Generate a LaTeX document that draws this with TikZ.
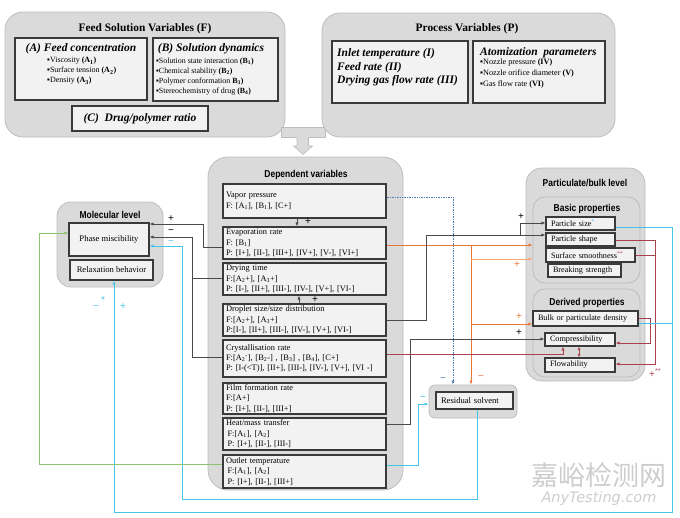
\documentclass[tikz,border=0pt]{standalone}
\usepackage{fontspec}
\setmainfont{Liberation Serif}
\newfontfamily\hsans[FakeStretch=0.85]{Liberation Sans}
\newfontfamily\lsans{Liberation Sans}
\newfontfamily\cjk{Noto Sans CJK SC}
\newfontfamily\wmlat{DejaVu Sans}
\usetikzlibrary{arrows.meta,calc}
\definecolor{graybg}{HTML}{DADADA}
\definecolor{grayedge}{HTML}{BDBDBD}
\definecolor{boxfill}{HTML}{F2F2F2}
\definecolor{boxedge}{HTML}{3A3A3A}
\definecolor{lnblack}{HTML}{4A4A4A}
\definecolor{lnorange}{HTML}{E8763A}
\definecolor{lnlorange}{HTML}{F3A678}
\definecolor{lnred}{HTML}{A8424E}
\definecolor{lncyan}{HTML}{45C4E8}
\definecolor{lngreen}{HTML}{8DC26F}
\definecolor{lnblue}{HTML}{4D7FB0}
\definecolor{wm}{HTML}{CDCDCD}
\begin{document}
\begin{tikzpicture}[x=1pt,y=-1pt,
  outer/.style={draw=grayedge, fill=graybg, line width=0.8pt, rounded corners=16pt, inner sep=0pt},
  inbox/.style={draw=boxedge, fill=boxfill, line width=1.1pt, inner sep=0pt},
  dep/.style={inbox, minimum width=163pt, text width=157pt, inner xsep=3pt, align=left, font=\fontsize{8.4}{10.4}\selectfont},
  pbox/.style={inbox, align=left, inner xsep=5pt, font=\fontsize{8.2}{9}\selectfont},
  htitle/.style={font=\hsans\bfseries\fontsize{10}{11}\selectfont, inner sep=0pt},
  stitle/.style={font=\bfseries\fontsize{11.4}{13}\selectfont, inner sep=0pt},
  bititle/.style={font=\bfseries\itshape\fontsize{11.5}{13}\selectfont, inner sep=0pt},
  itemA/.style={font=\fontsize{8}{9}\selectfont, inner sep=0pt, anchor=west},
  item/.style={font=\fontsize{7.9}{9}\selectfont, inner sep=0pt, anchor=west},
  itemP/.style={font=\fontsize{8.2}{9}\selectfont, inner sep=0pt, anchor=west},
  sgn/.style={font=\lsans\fontsize{10}{10}\selectfont, inner sep=0pt},
  arr/.style={-{Latex[length=4pt,width=3.2pt]}},
  lk/.style={draw=lnblack, line width=0.7pt},
  lo/.style={draw=lnorange, line width=0.8pt},
  llo/.style={draw=lnlorange, line width=0.6pt},
  lr/.style={draw=lnred, line width=0.7pt},
  lc/.style={draw=lncyan, line width=0.8pt},
  lg/.style={draw=lngreen, line width=0.8pt},
  lb/.style={draw=lnblue, line width=0.7pt, densely dotted}
]
\useasboundingbox (0,0) rectangle (680,517);

% watermark
\node[text=wm, font=\cjk\fontsize{27}{27}\selectfont, inner sep=0pt] (wm1) at (599,475) {嘉峪检测网};
\node[text=wm, font=\wmlat\itshape\fontsize{14.5}{15}\selectfont, inner sep=0pt] (wm2) at (599,498) {AnyTesting.com};

% ---------- Feed solution variables ----------
\node[outer, rounded corners=18pt, minimum width=280pt, minimum height=125pt] (F) at (145,74.5) {};
\node[draw=grayedge, fill=graybg, line width=0.6pt, minimum width=44pt, minimum height=10pt, inner sep=0pt] (band) at (303,132) {};
\node[outer, rounded corners=18pt, minimum width=293pt, minimum height=124pt] (P) at (468.5,75) {};
\fill[graybg] (282,127.6) rectangle (324,136.4);
\filldraw[fill=graybg, draw=grayedge, line width=0.6pt] (297,137) -- (297,146) -- (293.5,146) -- (303,154.5) -- (312.5,146) -- (308.5,146) -- (308.5,137);
\fill[graybg] (297.4,135) rectangle (308.1,138);

\node[stitle] (Ft) at (145,29) {Feed Solution Variables (F)};
\node[inbox, minimum width=132pt, minimum height=62pt] (A) at (81,69) {};
\node[bititle] (At) at (81,49) {(A) Feed concentration};
\node[itemA] (A1) at (47,61) {▪Viscosity \textbf{(A\textsubscript{1})}};
\node[itemA] (A2) at (47,71) {▪Surface tension \textbf{(A\textsubscript{2})}};
\node[itemA] (A3) at (47,81) {▪Density \textbf{(A\textsubscript{3})}};
\node[inbox, minimum width=125pt, minimum height=63pt] (B) at (215.5,69.5) {};
\node[bititle] (Bt) at (211,49) {(B) Solution dynamics};
\node[item] (B1) at (156,61.5) {▪Solution state interaction \textbf{(B\textsubscript{1})}};
\node[item] (B2) at (156,71.5) {▪Chemical stability \textbf{(B\textsubscript{2})}};
\node[item] (B3) at (156,81.5) {▪Polymer conformation \textbf{B\textsubscript{3})}};
\node[item] (B4) at (156,91.5) {▪Stereochemistry of drug \textbf{(B\textsubscript{4})}};
\node[inbox, minimum width=136pt, minimum height=25pt, bititle, line width=1.1pt, draw=boxedge, fill=boxfill] (C) at (140,118.5) {(C)\ \ Drug/polymer ratio};

% ---------- Process variables ----------
\node[stitle] (Pt) at (467,29) {Process Variables (P)};
\node[inbox, minimum width=136pt, minimum height=62pt] (Pl) at (400,72) {};
\node[bititle, anchor=west] (P1) at (337,54) {Inlet temperature (I)};
\node[bititle, anchor=west] (P2) at (337,67.5) {Feed rate (II)};
\node[bititle, anchor=west] (P3) at (337,81) {Drying gas flow rate (III)};
\node[inbox, minimum width=132pt, minimum height=62pt] (Pr) at (539,72) {};
\node[bititle, anchor=west] (Pat) at (480,52.5) {Atomization\ \ parameters};
\node[itemP] (P4) at (480,63) {▪Nozzle pressure \textbf{(IV)}};
\node[itemP] (P5) at (480,73.5) {▪Nozzle orifice diameter \textbf{(V)}};
\node[itemP] (P6) at (480,84) {▪Gas flow rate \textbf{(VI)}};

% ---------- Dependent variables ----------
\node[outer, rounded corners=20pt, minimum width=195pt, minimum height=333pt] (D) at (305.5,323.5) {};
\node[htitle] (Dt) at (306,175) {Dependent variables};
\node[dep, minimum height=34pt] (vp) at (304.5,201) {Vapor pressure\\F: [A\textsubscript{1}], [B\textsubscript{1}], [C+]};
\node[dep, minimum height=32pt] (ev) at (304.5,243) {Evaporation rate\\F: [B\textsubscript{1}]\\P: [I+], [II-], [III+], [IV+], [V-], [VI+]};
\node[dep, minimum height=32pt] (dt) at (304.5,279) {Drying time\\F:[A\textsubscript{2}+], [A\textsubscript{3}+]\\P: [I-], [II+], [III-], [IV-], [V+], [VI-]};
\node[dep, minimum height=32pt] (ds) at (304.5,320) {Droplet size/size distribution\\F:[A\textsubscript{2}+], [A\textsubscript{3}+]\\P:[I-], [II+], [III-], [IV-], [V+], [VI-]};
\node[dep, minimum height=37pt] (cr) at (304.5,358.5) {Crystallisation rate\\F:[A\textsubscript{2}\textsuperscript{-}], [B\textsubscript{2}-] , [B\textsubscript{3}] , [B\textsubscript{4}], [C+]\\P: [I-(<T)], [II+], [III-], [IV-], [V+], [VI -]};
\node[dep, minimum height=31pt] (ff) at (304.5,398.5) {Film formation rate\\F:[A+]\\P: [I+], [II-], [III+]};
\node[dep, minimum height=32pt] (hm) at (304.5,434) {Heat/mass transfer\\\hspace*{1.5pt}F:[A\textsubscript{1}], [A\textsubscript{2}]\\\hspace*{1.5pt}P: [I+], [II-], [III-]};
\node[dep, minimum height=33pt] (ot) at (304.5,471.5) {Outlet temperature\\\hspace*{1.5pt}F:[A\textsubscript{1}], [A\textsubscript{2}]\\\hspace*{1.5pt}P: [I+], [II-], [III+]};

% ---------- Molecular level ----------
\node[outer, rounded corners=14pt, minimum width=106pt, minimum height=85pt] (M) at (110,244.5) {};
\node[htitle] (Mt) at (110,215) {Molecular level};
\node[pbox, minimum width=80pt, minimum height=33pt, font=\fontsize{8.6}{9}\selectfont] (pm) at (109,239.5) {Phase miscibility};
\node[pbox, minimum width=83pt, minimum height=20pt, font=\fontsize{8.6}{9}\selectfont] (rb) at (111.5,270) {Relaxation behavior};

% ---------- Particulate / bulk level ----------
\node[outer, rounded corners=16pt, minimum width=119pt, minimum height=213pt] (PB) at (585.5,274.5) {};
\node[htitle] (PBt) at (585,183) {Particulate/bulk level};
\node[draw=grayedge, fill=graybg, line width=0.8pt, rounded corners=12pt, minimum width=107pt, minimum height=86pt, inner sep=0pt] (bp) at (586.5,240) {};
\node[htitle] (bpt) at (587,209) {Basic properties};
\node[pbox, minimum width=69pt, text width=59pt, minimum height=13pt] (ps) at (580.5,223.5) {Particle size\textcolor{lncyan}{\textsuperscript{*}}};
\node[pbox, minimum width=69pt, text width=59pt, minimum height=13pt] (psh) at (580.5,239.5) {Particle shape};
\node[pbox, minimum width=89pt, text width=79pt, minimum height=14pt] (ss) at (590.5,255) {Surface smoothness\textcolor{lnred}{\textsuperscript{**}}};
\node[pbox, minimum width=73pt, text width=63pt, minimum height=13pt] (bs) at (584.5,270.5) {Breaking strength};
\node[draw=grayedge, fill=graybg, line width=0.8pt, rounded corners=12pt, minimum width=107pt, minimum height=88pt, inner sep=0pt] (dp) at (586.5,333) {};
\node[htitle] (dpt) at (587,303) {Derived properties};
\node[pbox, minimum width=105pt, text width=95pt, minimum height=15pt] (bd) at (585.5,318.5) {Bulk or particulate density};
\node[pbox, minimum width=70pt, text width=60pt, minimum height=13pt] (cp) at (580,339.5) {Compressibility};
\node[pbox, minimum width=70pt, text width=60pt, minimum height=14pt] (fl) at (580,365) {Flowability};

% ---------- Residual solvent ----------
\node[outer, rounded corners=6pt, minimum width=88pt, minimum height=33pt] (rso) at (473,401.5) {};
\node[pbox, minimum width=77pt, text width=67pt, minimum height=17pt, font=\fontsize{8.6}{9}\selectfont] (rsi) at (474.5,400.5) {Residual solvent};

% ---------- connectors ----------
\draw[lk, arr] (vp.south -| 297,0) -- (ev.north -| 297,0);
\draw[lk, arr] (ds.north -| 299,0) -- (dt.south -| 299,0);
\node[sgn] (s1) at (308,222) {+};
\node[sgn] (s2) at (315,300) {+};

% blue dotted: vapor pressure -> residual solvent
\draw[lb, arr] (vp.east |- 0,197) -| (rso.north -| 453,0);
\node[sgn, text=lnblue] (s3) at (443,380) {−};

% orange: evaporation rate
\draw[lo, arr] (ev.east |- 0,245) -- (bp.west |- 0,245);
\draw[lo, arr] (471,245) -- (rso.north -| 471,0);
\draw[llo, arr] (471,259) -- (bp.west |- 0,259);
\draw[lo, arr] (471,324) -- (bd.west |- 0,324);
\node[sgn, text=lnorange] (s4) at (481,378) {−};
\node[sgn, text=lnorange] (s5) at (517,265) {+};
\node[sgn, text=lnorange] (s6) at (519,317) {+};

% black: droplet size -> particle size / shape
\draw[lk] (ds.east |- 0,320) -- (426,320) -- (426,235) -- (520,235);
\draw[lk] (520,223) -- (520,235);
\draw[lk, arr] (520,223) -- (ps.west |- 0,223);
\draw[lk, arr] (520,235) -- (psh.west |- 0,235);
\node[sgn] (s7) at (521,217) {+};

% black: heat/mass transfer -> compressibility
\draw[lk, arr] (hm.east |- 0,424) -- (410,424) -- (410,339) -- (cp.west |- 0,339);
\node[sgn] (s8) at (519,333) {+};

% red lines
\draw[lr, arr] (cr.east |- 0,354) -- (563,354) -- (cp.south -| 563,0);
\draw[lr, {Latex[length=3.5pt,width=3pt]}-{Latex[length=3.5pt,width=3pt]}] (cp.south -| 579,0) -- (fl.north -| 579,0);
\draw[lr, arr] (psh.east |- 0,240) -- (655,240) -- (655,364) -- (fl.east |- 0,364);
\draw[lr] (ss.east) -- (655,255);
\draw[lr, arr] (bd.east |- 0,318) -- (650,318) -- (650,343) -- (cp.east |- 0,343);
\node[sgn, text=lnred, anchor=west] (s9) at (649,373) {+\textsuperscript{**}};

% cyan: particle size / bulk density -> relaxation behavior
\draw[lc, arr] (ps.east |- 0,227) -- (672,227) -- (672,512) -- (114,512) -- (rb.south -| 114,0);
\draw[lc] (bd.east |- 0,323) -- (672,323);
\node[sgn, text=lncyan] (s10) at (123,307) {+};
\node[sgn, text=lncyan] (s11) at (96,308) {−};
\node[sgn, text=lncyan] (s12) at (103,300) {*};

% cyan: residual solvent -> phase miscibility
\draw[lc, arr] (rsi.south -| 477,0) -- (477,499) -- (182,499) -- (182,246) -- (pm.east |- 0,246);
\node[sgn, text=lncyan] (s13) at (171,243) {−};

% cyan: outlet temperature -> residual solvent
\draw[lc, arr] (ot.east |- 0,465) -- (418,465) -- (418,404) -- (rso.west |- 0,404);
\node[sgn, text=lncyan] (s14) at (423,399) {−};

% green: outlet temperature -> phase miscibility
\draw[lg, arr] (ot.west |- 0,464) -- (39,464) -- (39,233) -- (pm.west |- 0,233);

% black: evaporation / crystallisation / drying -> phase miscibility
\draw[lk, arr] (ev.west |- 0,247) -- (203,247) -- (203,224) -- (pm.east |- 0,224);
\draw[lk, arr] (cr.west |- 0,357) -- (192,357) -- (192,237) -- (pm.east |- 0,237);
\draw[lk] (dt.west |- 0,278) -- (192,278);
\node[sgn] (s15) at (171,219) {+};
\node[sgn] (s16) at (171,232) {−};
\end{tikzpicture}
\end{document}
